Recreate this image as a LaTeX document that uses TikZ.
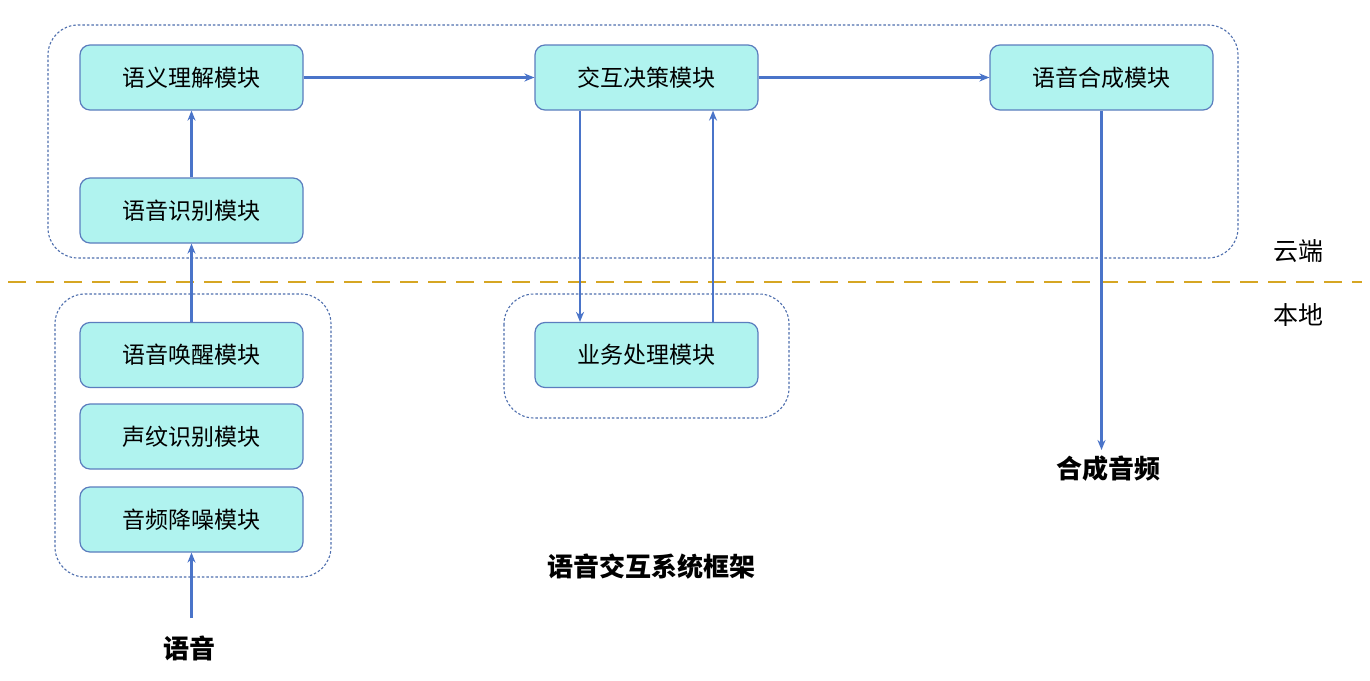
\documentclass[tikz,border=0pt]{standalone}
\usepackage{fontspec}
\setmainfont{Noto Sans CJK SC}
\usetikzlibrary{arrows.meta}
\definecolor{boxfill}{HTML}{B0F3EF}
\definecolor{boxdraw}{HTML}{5B7DBE}
\definecolor{arrowc}{HTML}{4A74C9}
\definecolor{contc}{HTML}{4F6FAE}
\definecolor{sepc}{HTML}{D6A623}
\tikzset{
  module/.style={draw=boxdraw, fill=boxfill, line width=1.2pt, rounded corners=10pt,
    minimum width=223pt, minimum height=65pt, inner sep=0pt,
    font=\fontsize{23}{27}\selectfont},
  container/.style={draw=contc, line width=1.1pt, dash pattern=on 2.5pt off 2pt, rounded corners=30pt},
  arr/.style={draw=arrowc, line width=2.4pt, -{Stealth[length=10pt,width=8pt]}},
  lbl/.style={inner sep=0pt, text height=20pt, text depth=4pt, font=\fontsize{26}{30}\selectfont\bfseries},
  plainlbl/.style={inner sep=0pt, text height=20pt, text depth=4pt, font=\fontsize{25}{29}\selectfont}
}
\begin{document}
\begin{tikzpicture}[x=1pt,y=-1pt]
\useasboundingbox[fill=white] (0,0) rectangle (1370,680);

% containers
\draw[container] (48,25) rectangle (1238,258);
\draw[container] (55,294) rectangle (331,577);
\draw[container] (504,294) rectangle (789,418);

% separator
\draw[sepc, line width=2.6pt, dash pattern=on 18pt off 10pt] (8,282) -- (1362,282);

% modules
\node[module] (yiyi) at (191.5,77.5) {语义理解模块};
\node[module] (shibie) at (191.5,210.5) {语音识别模块};
\node[module] (jiaohu) at (646.5,77.5) {交互决策模块};
\node[module] (hecheng) at (1101.5,77.5) {语音合成模块};
\node[module] (huanxing) at (191.5,355) {语音唤醒模块};
\node[module] (shengwen) at (191.5,436.5) {声纹识别模块};
\node[module] (jiangzao) at (191.5,519.5) {音频降噪模块};
\node[module] (yewu) at (646.5,355) {业务处理模块};

% labels
\node[plainlbl] (yun) at (1298,252) {云端};
\node[plainlbl] (bendi) at (1298,316) {本地};
\node[lbl, outer ysep=8pt] (hcyp) at (1108,470) {合成音频};
\node[lbl, outer ysep=20pt] (yuyin) at (189,650) {语音};
\node[lbl] (title) at (651,568) {语音交互系统框架};

% connectors
\draw[arr] (yuyin.north -| jiangzao.south) -- (jiangzao.south);
\draw[arr] (huanxing.north) -- (shibie.south);
\draw[arr] (shibie.north) -- (yiyi.south);
\draw[arr] (yiyi.east) -- (jiaohu.west);
\draw[arr] (jiaohu.east) -- (hecheng.west);
\draw[arr] ([xshift=-66.5pt]jiaohu.south) -- ([xshift=-66.5pt]yewu.north);
\draw[arr] ([xshift=66.5pt]yewu.north) -- ([xshift=66.5pt]jiaohu.south);
\draw[arr] (hecheng.south) -- (hecheng.south |- hcyp.north);
\end{tikzpicture}
\end{document}
